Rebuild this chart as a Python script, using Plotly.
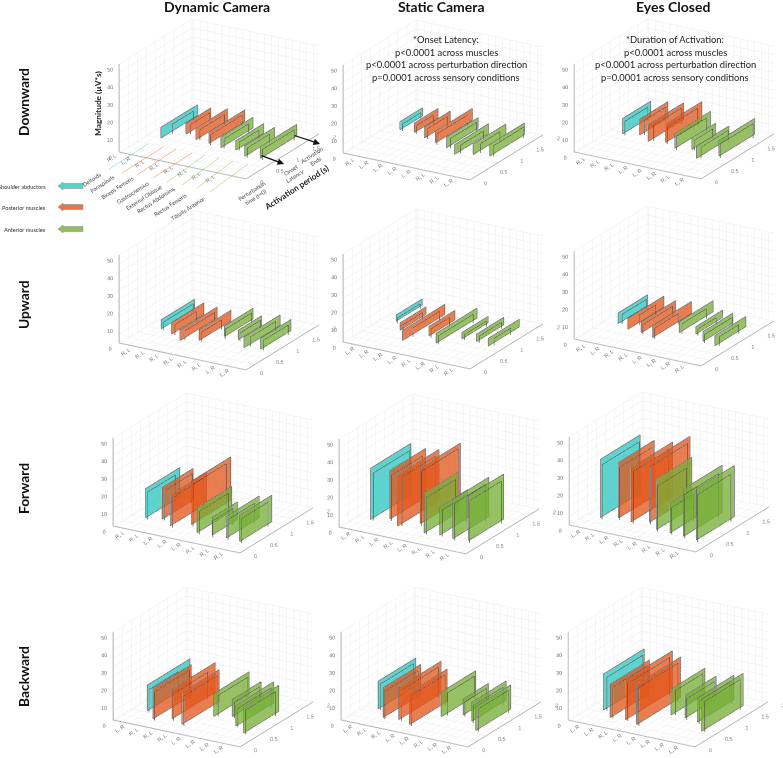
# muscle activation windows, 4 directions x 3 sensory conditions
import plotly.graph_objects as go

W, H = 783, 758

# each list: 8 muscles x 2 sides, outer rectangle then inner rectangle
down_dyn_onset = [.76,.98,1.06,1.09,.95,.96,.92,.87,.86,.85,.88,.89,.74,.71,.78,.74]
down_dyn_end = [1.76,1.55,1.74,1.62,1.81,1.63,1.9,1.73,1.74,1.53,1.65,1.42,1.56,1.33,1.78,1.61]
down_dyn_mag = [6,5.5,6.2,5.5,6.6,6,6.4,6,6,5.5,5.3,5,6,5.5,6.6,6]

down_sta_onset = [1.17,1.15,1.18,1.15,1.07,1.06,.99,.93,.9,.91,.74,.81,.86,.96,.93,.94]
down_sta_end = [1.79,1.65,1.83,1.6,1.78,1.6,2.0,1.77,1.77,1.64,1.67,1.43,1.76,1.5,1.88,1.76]
down_sta_mag = [4.5,4,5.3,4.8,6.2,5.8,6.6,6.2,6,5.5,5.5,4.8,5.9,5.3,6.6,6.2]

down_eye_onset = [.94,.91,1.02,1.06,.87,.93,.96,.91,.83,.78,.91,.89,.65,.68,.88,.83]
down_eye_end = [1.71,1.54,1.8,1.65,1.84,1.68,1.96,1.75,1.81,1.6,1.56,1.39,1.54,1.42,1.86,1.72]
down_eye_mag = [8.7,8,9,8.4,9.5,9,10.4,9.8,8.5,7.8,6.6,6,7,6.4,8.9,8.2]

up_dyn_onset = [.77,.73,.66,.66,.51,.55,.65,.62,.96,.88,.95,.9,.72,.8,.79,.77]
up_dyn_end = [1.68,1.55,1.55,1.25,1.53,1.37,1.52,1.17,1.74,1.61,1.59,1.47,1.71,1.49,1.62,1.45]
up_dyn_mag = [5.1,4.6,6.4,5.8,6,5.5,6,5.5,6,5.5,5.3,4.8,6,5.5,6.2,5.7]

up_sta_onset = [1.07,1.0,.79,.77,.47,.66,.81,.77,.62,.58,.94,.92,.95,.93,.89,.95]
up_sta_end = [1.78,1.63,1.5,1.31,1.63,1.39,1.52,1.27,1.74,1.54,1.66,1.52,1.7,1.55,1.74,1.41]
up_sta_mag = [3.4,3,4.2,3.8,5.7,5.2,5.3,4.9,5.5,5,3.6,3.2,4.2,3.8,4.3,3.9]

up_eye_onset = [.82,.83,.7,.92,.68,.63,.6,.57,.95,.93,1.02,.98,.83,.78,.77,.79]
up_eye_end = [1.63,1.5,1.69,1.36,1.62,1.45,1.67,1.21,1.88,1.6,1.75,1.48,1.65,1.53,1.62,1.33]
up_eye_mag = [6,5.5,6.2,5.7,6.2,5.7,6.8,6.2,6.2,5.7,4.2,3.8,5.5,5,5.7,5.2]

fwd_dyn_onset = [.5,.46,.57,.54,.41,.37,.6,.55,.37,.33,.4,.32,.4,.35,.38,.33]
fwd_dyn_end = [1.44,1.22,1.42,1.3,1.4,1.22,1.68,1.46,1.32,1.14,1.09,.87,1.3,1.08,1.26,1.06]
fwd_dyn_mag = [16.5,15.5,18,17,17.6,17,24.6,24,14.2,13,10,9.5,12.3,11.5,15,14]

fwd_sta_onset = [.47,.45,.62,.56,.44,.47,.68,.61,.4,.37,.44,.41,.41,.37,.46,.39]
fwd_sta_end = [1.58,1.45,1.6,1.42,1.58,1.39,1.78,1.62,1.33,1.17,1.21,1.07,1.4,1.21,1.42,1.26]
fwd_sta_mag = [29,27,27.6,26,29,28,31.7,31,22.7,21,16,15,22.3,21,25.5,24]

fwd_eye_onset = [.47,.42,.58,.52,.54,.5,.66,.59,.46,.4,.45,.4,.43,.37,.4,.34]
fwd_eye_end = [1.56,1.44,1.56,1.39,1.68,1.48,1.77,1.61,1.43,1.2,1.18,.99,1.49,1.29,1.44,1.25]
fwd_eye_mag = [33,31,31.6,30,30.8,29.5,34.6,33,28.7,26,17,15.5,26.8,25,29,27]

back_dyn_onset = [.55,.5,.32,.27,.46,.4,.34,.3,.83,.85,.95,.91,.66,.62,.48,.45]
back_dyn_end = [1.72,1.3,1.37,1.22,1.64,1.34,1.36,1.21,1.8,1.67,1.74,1.6,1.7,1.53,1.45,1.27]
back_dyn_mag = [14.5,13,17.4,16.5,16.8,15.5,18,17,12.9,12,9.8,9,11.9,11,14.7,14]

back_sta_onset = [.63,.6,.38,.33,.42,.4,.33,.29,.81,.89,1.03,.98,.88,.82,.6,.58]
back_sta_end = [1.66,1.5,1.41,1.24,1.58,1.41,1.36,1.21,1.76,1.64,1.72,1.57,1.82,1.64,1.56,1.4]
back_sta_mag = [15.7,15,17,16,18.3,17.5,18.3,17.5,14,13,9,8.5,10.8,10,13.6,13]

back_eye_onset = [.58,.58,.38,.36,.41,.38,.33,.3,.89,.92,.89,.84,.84,.79,.57,.56]
back_eye_end = [1.7,1.57,1.46,1.32,1.7,1.53,1.54,1.37,1.82,1.67,1.74,1.6,1.84,1.67,1.71,1.53]
back_eye_mag = [20.4,19,18.9,18,22.7,21.5,22.9,22,14.7,14,12.9,12,13.8,13,18.3,17.5]

RL, LR = "R, L", "L, R"
down_dyn_sides = [RL, LR, RL, RL, RL, RL, RL, RL]
down_sta_sides = [RL, LR, LR, LR, LR, RL, RL, LR]
down_eye_sides = [RL, RL, RL, LR, LR, LR, RL, LR]
up_dyn_sides = [RL, RL, RL, RL, RL, RL, LR, LR]
up_sta_sides = [LR, LR, LR, LR, RL, LR, RL, RL]
up_eye_sides = [RL, LR, RL, RL, LR, LR, LR, RL]
fwd_dyn_sides = [RL, RL, LR, LR, LR, RL, RL, RL]
fwd_sta_sides = [LR, RL, LR, RL, LR, RL, RL, RL]
fwd_eye_sides = [LR, RL, LR, RL, LR, RL, RL, RL]
back_dyn_sides = [LR, RL, RL, RL, LR, LR, LR, LR]
back_sta_sides = [LR, RL, RL, LR, LR, RL, LR, LR]
back_eye_sides = [LR, LR, RL, LR, LR, LR, LR, LR]

muscle_colors = ["#2dc6c0"] + ["#e2561a"] * 3 + ["#77ae35"] * 4
muscle_names = ["Deltoids", "Paraspinals", "Biceps Femoris", "Gastrocnemius",
                "External Oblique", "Rectus Abdominis", "Rectus Femoris", "Tibialis Anterior"]

panels = [
    (119, 152, down_dyn_onset, down_dyn_end, down_dyn_mag, down_dyn_sides),
    (343, 153, down_sta_onset, down_sta_end, down_sta_mag, down_sta_sides),
    (574, 152, down_eye_onset, down_eye_end, down_eye_mag, down_eye_sides),
    (119, 343, up_dyn_onset, up_dyn_end, up_dyn_mag, up_dyn_sides),
    (343, 342, up_sta_onset, up_sta_end, up_sta_mag, up_sta_sides),
    (574, 339, up_eye_onset, up_eye_end, up_eye_mag, up_eye_sides),
    (113, 526, fwd_dyn_onset, fwd_dyn_end, fwd_dyn_mag, fwd_dyn_sides),
    (339, 527, fwd_sta_onset, fwd_sta_end, fwd_sta_mag, fwd_sta_sides),
    (569, 525, fwd_eye_onset, fwd_eye_end, fwd_eye_mag, fwd_eye_sides),
    (113, 720, back_dyn_onset, back_dyn_end, back_dyn_mag, back_dyn_sides),
    (341, 720, back_sta_onset, back_sta_end, back_sta_mag, back_sta_sides),
    (568, 720, back_eye_onset, back_eye_end, back_eye_mag, back_eye_sides),
]

HALF_W, HALF_H = 125, 90
EYE_DIST = 3
EYE = (0.472 * EYE_DIST, -0.805 * EYE_DIST, 0.362 * EYE_DIST)
SCREEN_RIGHT = (0.863, 0.506)  # screen right as a world direction for this view
TICK_FONT = dict(family="Liberation Sans", size=8, color="#707070")


def px(x):
    return x / W


def py(y):
    return 1 - y / H


fig = go.Figure()
layout = {}

for n, (x0, y0, onset, end, mag, sides) in enumerate(panels):
    scene = "scene" if n == 0 else f"scene{n + 1}"
    cx, cy = x0 + 100, y0 - 53
    # right column: canvas stops at the page edge, so pan the camera instead
    dcx = min(cx, W - HALF_W)
    pan = (cx - dcx) / HALF_H
    center = (-SCREEN_RIGHT[0] * pan, -SCREEN_RIGHT[1] * pan, 0)

    # only the outer rectangle is filled, the inner one is just an outline
    for c in dict.fromkeys(muscle_colors):
        vx, vy, vz, ti, tj, tk = [], [], [], [], [], []
        for k in range(0, 16, 2):
            if muscle_colors[k // 2] != c:
                continue
            x = k // 2 + 1
            b = len(vx)
            vx += [x] * 4
            vy += [onset[k], end[k], end[k], onset[k]]
            vz += [0, 0, mag[k], mag[k]]
            ti += [b, b]
            tj += [b + 1, b + 2]
            tk += [b + 2, b + 3]
        fig.add_trace(go.Mesh3d(x=vx, y=vy, z=vz, i=ti, j=tj, k=tk, color=c, opacity=0.76,
                                flatshading=True, hoverinfo="skip", showscale=False,
                                lighting=dict(ambient=1, diffuse=0, specular=0, roughness=1, fresnel=0),
                                scene=scene))

    lx, ly, lz = [], [], []
    for k in range(0, 16, 2):
        lx += [k // 2 + 1] * 5 + [None]
        ly += [onset[k], end[k], end[k], onset[k], onset[k], None]
        lz += [0, 0, mag[k], mag[k], 0, None]
    fig.add_trace(go.Scatter3d(x=lx, y=ly, z=lz, mode="lines", hoverinfo="skip",
                               line=dict(color="#6e6e6e", width=1.6), showlegend=False, scene=scene))
    lx, ly, lz = [], [], []
    for k in range(1, 16, 2):
        lx += [k // 2 + 1.25] * 4 + [None]
        ly += [onset[k], onset[k], end[k], end[k], None]
        lz += [0, mag[k], mag[k], 0, None]
    fig.add_trace(go.Scatter3d(x=lx, y=ly, z=lz, mode="lines", hoverinfo="skip",
                               line=dict(color="#404040", width=1.2), showlegend=False, scene=scene))

    # minor grid comes from unlabelled ticks; first panel labels sit one step further out
    first = 0 if n == 0 else 1
    label_vals = [first + i + 0.125 for i in range(8)]
    grid_vals = [i + 0.625 for i in range(9)] + ([8.125] if n == 0 else [0.125])
    x_vals = sorted(label_vals + grid_vals)
    x_text = [sides[label_vals.index(v)] if v in label_vals else "" for v in x_vals]
    y_vals = [i * 0.25 for i in range(9)]
    y_text = [f"{v:g}" if i % 2 == 0 else "" for i, v in enumerate(y_vals)]
    z_vals = [i * 5 for i in range(11)]
    z_text = [str(v) if v % 10 == 0 else "" for v in z_vals]
    common = dict(showbackground=False, showspikes=False, ticks="", title="", showgrid=True,
                  gridcolor="#ebebeb", gridwidth=1, showline=True, linecolor="#b0b0b0", linewidth=2,
                  zeroline=False, tickfont=TICK_FONT, tickmode="array")
    layout[scene] = dict(
        domain=dict(x=[px(dcx - HALF_W), min(1, px(dcx + HALF_W))], y=[py(cy + HALF_H), py(cy - HALF_H)]),
        aspectmode="manual", aspectratio=dict(x=1.633, y=1.6, z=1.049),
        camera=dict(eye=dict(x=EYE[0] + center[0], y=EYE[1] + center[1], z=EYE[2]),
                    center=dict(x=center[0], y=center[1], z=0), up=dict(x=0, y=0, z=1),
                    projection=dict(type="orthographic")),
        xaxis=dict(common, range=[0, 9], tickvals=x_vals, ticktext=x_text, tickangle=-35),
        yaxis=dict(common, range=[0, 2], tickvals=y_vals, ticktext=y_text, tickangle=0),
        zaxis=dict(common, range=[0, 50], tickvals=z_vals, ticktext=z_text, tickangle=0),
    )

annotations = []


def text(x, y, s, size, angle=0, bold=False, color="#222222", family="Lato", xanchor="center"):
    annotations.append(dict(x=px(x), y=py(y), xref="paper", yref="paper", text=f"<b>{s}</b>" if bold else s,
                            showarrow=False, textangle=angle, xanchor=xanchor, yanchor="middle",
                            font=dict(family=family, size=size, color=color)))


for x, s in [(217, "Dynamic Camera"), (441, "Static Camera"), (673, "Eyes Closed")]:
    text(x, 7, s, 14, bold=True, color="#111111")
for y, s in [(102, "Downward"), (305, "Upward"), (489, "Forward"), (677, "Backward")]:
    text(23, y, s, 13.8, angle=-90, bold=True, color="#111111")

for i, s in enumerate(["*Onset Latency:", "p&lt;0.0001 across muscles",
                       "p&lt;0.0001 across perturbation direction", "p=0.0001 across sensory conditions"]):
    text(446, 40 + i * 12.4, s, 9.4)
for i, s in enumerate(["*Duration of Activation:", "p&lt;0.0001 across muscles",
                       "p&lt;0.0001 across perturbation direction", "p=0.0001 across sensory conditions"]):
    text(675, 40 + i * 12.4, s, 9.4)

# annotation layer of the first panel
name_spots = [(91, 179), (102, 183), (117, 188), (132, 192), (143, 197), (156, 200), (170, 204), (187, 208)]
for (x, y), s in zip(name_spots, muscle_names):
    text(x, y, s, 5.6, angle=-33, color="#444444")
text(98, 104, "Magnitude (µV*s)", 8.3, angle=-90, bold=True, color="#222222")
text(296, 188, "Activation period (s)", 8.3, angle=-33, bold=True, color="#222222")
text(253, 194, "Perturbation<br>time (t=0)", 5.6, angle=-33, color="#444444")
text(292, 173, "Onset<br>Latency", 5.6, angle=-33, color="#444444")
text(313, 158, "Activation<br>Ends", 5.6, angle=-33, color="#444444")

for (x1, y1, x2, y2) in [(260, 155, 284, 164), (293, 135, 320, 144)]:
    annotations.append(dict(x=px(x2), y=py(y2), ax=x1 - x2, ay=y1 - y2, xref="paper", yref="paper",
                            axref="pixel", ayref="pixel", text="", showarrow=True, arrowhead=2,
                            arrowsize=1, arrowwidth=1.3, arrowcolor="#111111"))

shapes = []
floor_lines = [(109, 169, 148, 144), (122, 173, 163, 147), (137, 175, 176, 149), (153, 178, 192, 153),
               (167, 182, 205, 155), (182, 185, 219, 158), (197, 188, 233, 161), (210, 192, 248, 164)]
for (x1, y1, x2, y2), c in zip(floor_lines, muscle_colors):
    shapes.append(dict(type="line", xref="paper", yref="paper", x0=px(x1), y0=py(y1), x1=px(x2), y1=py(y2),
                       line=dict(color=c, width=0.8), opacity=0.5))

for y, s, c in [(186, "Shoulder abductors", "#2dc6c0"), (207, "Posterior muscles", "#e2561a"),
                (229, "Anterior muscles", "#77ae35")]:
    pts = [(58, y), (63, y - 4), (63, y - 2.5), (83, y - 2.5), (83, y + 2.5), (63, y + 2.5), (63, y + 4)]
    path = "M" + " L".join(f"{px(a):.4f},{py(b):.4f}" for a, b in pts) + " Z"
    shapes.append(dict(type="path", xref="paper", yref="paper", path=path, fillcolor=c, opacity=0.8,
                       line=dict(color="#777777", width=0.6)))
    text(48, y, s, 5.6, color="#333333", xanchor="right")

fig.update_layout(width=W, height=H, margin=dict(l=0, r=0, t=0, b=0), paper_bgcolor="white", showlegend=False,
                  annotations=annotations, shapes=shapes, **layout)
# page default margin would push the fixed-size figure out of the window
fig.write_html("out.html", config={"displayModeBar": False}, post_script="document.body.style.margin='0';")
